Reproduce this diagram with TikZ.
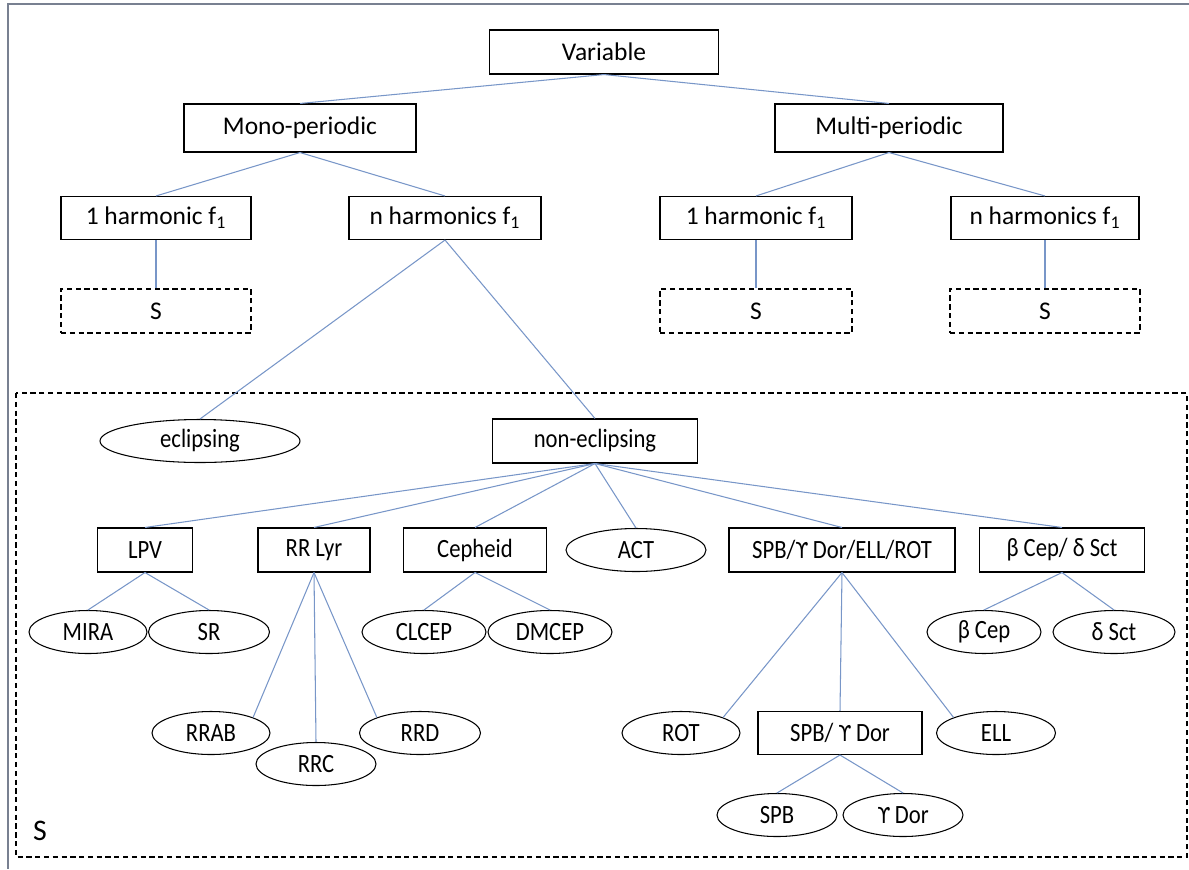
\documentclass[tikz,border=0pt]{standalone}
\usepackage{fontspec}
\setmainfont{Carlito}
\newfontfamily\narrowfont{Carlito}[FakeStretch=0.86]
\newfontfamily\upsfont{DejaVu Sans}[FakeStretch=0.86]
\usetikzlibrary{shapes.geometric}
\definecolor{linkblue}{RGB}{120,150,200}
\definecolor{framegray}{RGB}{120,128,145}
\newcommand{\ups}{{\upsfont\fontsize{12.5}{14}\selectfont ϒ}}
\newcommand{\fone}{f\textsubscript{1}}
\tikzset{
    cls/.style =    {rectangle,
                    fill=white,
                    draw=black,
                    text=black,
                    line width=0.6pt,
                    inner sep=2pt,
                    font=\fontsize{14.5}{16}\selectfont},
    sbox/.style =   {cls,
                    dashed,
                    dash pattern=on 3pt off 2pt},
    sub/.style =    {cls,
                    font=\narrowfont\fontsize{15}{17}\selectfont,
                    minimum height=44*0.02cm},
    leaf/.style =   {ellipse,
                    fill=white,
                    draw=black,
                    text=black,
                    line width=0.6pt,
                    inner sep=0pt,
                    minimum height=43*0.02cm,
                    font=\narrowfont\fontsize{15}{17}\selectfont},
    link/.style =   {draw=linkblue,
                    line width=0.6pt}}

\begin{document}
\begin{tikzpicture}[x=0.02cm,y=-0.02cm]
        \useasboundingbox (0,0) rectangle (1189,869);
        \draw [framegray,line width=0.8pt] (1189,4) -- (8,4) -- (8,869);
        \draw [black,line width=0.6pt,dash pattern=on 3pt off 2pt] (16,393) rectangle (1187,857);
        \node [font=\fontsize{17}{19}\selectfont] (slabel) at (40,831) {S};

        % upper part
        \node[cls,minimum width=229*0.02cm,minimum height=44*0.02cm]  (var)   at (604,52)   {Variable};
        \node[cls,minimum width=232*0.02cm,minimum height=48*0.02cm]  (mono)  at (300,128)  {Mono-periodic};
        \node[cls,minimum width=228*0.02cm,minimum height=48*0.02cm]  (multi) at (889,128)  {Multi-periodic};
        \node[cls,minimum width=190*0.02cm,minimum height=43*0.02cm]  (oneL)  at (156,218)  {1 harmonic \fone};
        \node[cls,minimum width=192*0.02cm,minimum height=43*0.02cm]  (nL)    at (445,218)  {n harmonics \fone};
        \node[cls,minimum width=192*0.02cm,minimum height=43*0.02cm]  (oneR)  at (756,218)  {1 harmonic \fone};
        \node[cls,minimum width=188*0.02cm,minimum height=43*0.02cm]  (nR)    at (1045,218) {n harmonics \fone};
        \node[sbox,minimum width=190*0.02cm,minimum height=44*0.02cm] (sL)    at (156,311)  {S};
        \node[sbox,minimum width=192*0.02cm,minimum height=44*0.02cm] (sM)    at (756,311)  {S};
        \node[sbox,minimum width=190*0.02cm,minimum height=44*0.02cm] (sR)    at (1045,311) {S};

        % inside the dashed frame
        \node[leaf,minimum width=200*0.02cm]                          (ecl)   at (200,441)  {eclipsing};
        \node[sub,minimum width=205*0.02cm]                           (necl)  at (595,441)  {non-eclipsing};

        \node[sub,minimum width=95*0.02cm]   (lpv)   at (145,550)  {LPV};
        \node[sub,minimum width=112*0.02cm]  (rrlyr) at (314,550)  {RR Lyr};
        \node[sub,minimum width=143*0.02cm]  (ceph)  at (475,550)  {Cepheid};
        \node[leaf,minimum width=140*0.02cm] (act)   at (636,550)  {ACT};
        \node[sub,minimum width=226*0.02cm]  (spbg)  at (842,550)  {SPB/\ups\,Dor/ELL/ROT};
        \node[sub,minimum width=165*0.02cm]  (bcds)  at (1062,550) {β Cep/ δ Sct};

        \node[leaf,minimum width=118*0.02cm] (mira)  at (88,632)   {MIRA};
        \node[leaf,minimum width=121*0.02cm] (sr)    at (209,632)  {SR};
        \node[leaf,minimum width=124*0.02cm] (clcep) at (424,632)  {CLCEP};
        \node[leaf,minimum width=124*0.02cm] (dmcep) at (550,632)  {DMCEP};
        \node[leaf,minimum width=114*0.02cm] (bcep)  at (984,632)  {β Cep};
        \node[leaf,minimum width=122*0.02cm] (dsct)  at (1114,632) {δ Sct};

        \node[leaf,minimum width=118*0.02cm] (rrab)  at (211,733)  {RRAB};
        \node[leaf,minimum width=120*0.02cm] (rrc)   at (316,764)  {RRC};
        \node[leaf,minimum width=121*0.02cm] (rrd)   at (420,733)  {RRD};
        \node[leaf,minimum width=118*0.02cm] (rot)   at (681,733)  {ROT};
        \node[sub,minimum width=164*0.02cm,minimum height=43*0.02cm] (spbgd) at (840,733) {SPB/ \ups\,Dor};
        \node[leaf,minimum width=119*0.02cm] (ell)   at (996,733)  {ELL};
        \node[leaf,minimum width=120*0.02cm] (spb)   at (777,815)  {SPB};
        \node[leaf,minimum width=120*0.02cm] (gdor)  at (903,815)  {\ups\,Dor};

        \path [link]    (var.south)   edge (mono.north)
                        (var.south)   edge (multi.north)
                        (mono.south)  edge (oneL.north)
                        (mono.south)  edge (nL.north)
                        (multi.south) edge (oneR.north)
                        (multi.south) edge (nR.north)
                        (oneL)        edge (sL)
                        (oneR)        edge (sM)
                        (nR)          edge (sR)
                        (nL.south)    edge (ecl.north)
                        (nL.south)    edge (necl.north)
                        (necl.south)  edge (lpv.north)
                        (necl.south)  edge (rrlyr.north)
                        (necl.south)  edge (ceph.north)
                        (necl.south)  edge (act.north)
                        (necl.south)  edge (spbg.north)
                        (necl.south)  edge (bcds.north)
                        (lpv.south)   edge (mira.north)
                        (lpv.south)   edge (sr.north)
                        (ceph.south)  edge (clcep.north)
                        (ceph.south)  edge (dmcep.north)
                        (bcds.south)  edge (bcep.north)
                        (bcds.south)  edge (dsct.north)
                        (rrlyr.south) edge (rrab.north east)
                        (rrlyr.south) edge (rrc.north)
                        (rrlyr.south) edge (rrd.north west)
                        (spbg.south)  edge (rot.north east)
                        (spbg.south)  edge (spbgd.north)
                        (spbg.south)  edge (ell.north west)
                        (spbgd.south) edge (spb.north)
                        (spbgd.south) edge (gdor.north);
\end{tikzpicture}
\end{document}
